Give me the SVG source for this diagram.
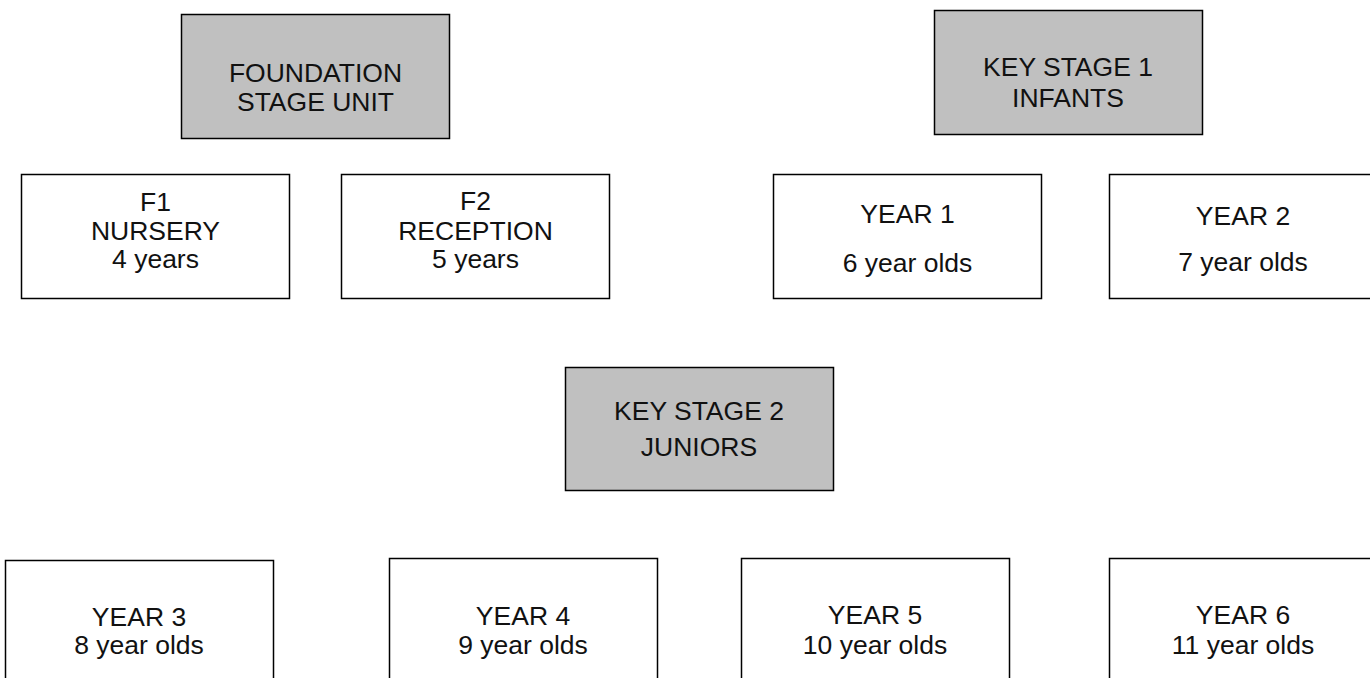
<svg xmlns="http://www.w3.org/2000/svg" width="1370" height="678" viewBox="0 0 1370 678">
<style>
.box{fill:#ffffff;stroke:#000000;stroke-width:1.5}
.stage{fill:#c0c0c0;stroke:#000000;stroke-width:1.5}
text{font-family:"Liberation Sans",Arial,Helvetica,sans-serif;font-size:26.5px;fill:#111111;text-anchor:middle}
</style>
<rect width="1370" height="678" fill="#ffffff"/>
<g id="connectors"></g>
<g id="foundation">
<rect class="stage" x="181.5" y="14.5" width="268" height="124"/>
<text x="315.5" y="82">FOUNDATION</text>
<text x="315.5" y="111">STAGE UNIT</text>
</g>
<g id="f1">
<rect class="box" x="21.5" y="174.5" width="268" height="124"/>
<text x="155.5" y="211">F1</text>
<text x="155.5" y="240">NURSERY</text>
<text x="155.5" y="268">4 years</text>
</g>
<g id="f2">
<rect class="box" x="341.5" y="174.5" width="268" height="124"/>
<text x="475.5" y="210">F2</text>
<text x="475.5" y="240">RECEPTION</text>
<text x="475.5" y="268">5 years</text>
</g>
<g id="ks1">
<rect class="stage" x="934.5" y="10.5" width="268" height="124"/>
<text x="1068" y="76">KEY STAGE 1</text>
<text x="1068" y="107">INFANTS</text>
</g>
<g id="year1">
<rect class="box" x="773.5" y="174.5" width="268" height="124"/>
<text x="907.5" y="223">YEAR 1</text>
<text x="907.5" y="272">6 year olds</text>
</g>
<g id="year2">
<rect class="box" x="1109.5" y="174.5" width="268" height="124"/>
<text x="1243" y="225">YEAR 2</text>
<text x="1243" y="271">7 year olds</text>
</g>
<g id="ks2">
<rect class="stage" x="565.5" y="367.5" width="268" height="123"/>
<text x="699" y="420">KEY STAGE 2</text>
<text x="699" y="456">JUNIORS</text>
</g>
<g id="year3">
<rect class="box" x="5.5" y="560.5" width="268" height="130"/>
<text x="139" y="626">YEAR 3</text>
<text x="139" y="654">8 year olds</text>
</g>
<g id="year4">
<rect class="box" x="389.5" y="558.5" width="268" height="130"/>
<text x="523" y="625">YEAR 4</text>
<text x="523" y="654">9 year olds</text>
</g>
<g id="year5">
<rect class="box" x="741.5" y="558.5" width="268" height="130"/>
<text x="875" y="624">YEAR 5</text>
<text x="875" y="654">10 year olds</text>
</g>
<g id="year6">
<rect class="box" x="1109.5" y="558.5" width="268" height="130"/>
<text x="1243" y="624">YEAR 6</text>
<text x="1243" y="654">11 year olds</text>
</g>
</svg>
